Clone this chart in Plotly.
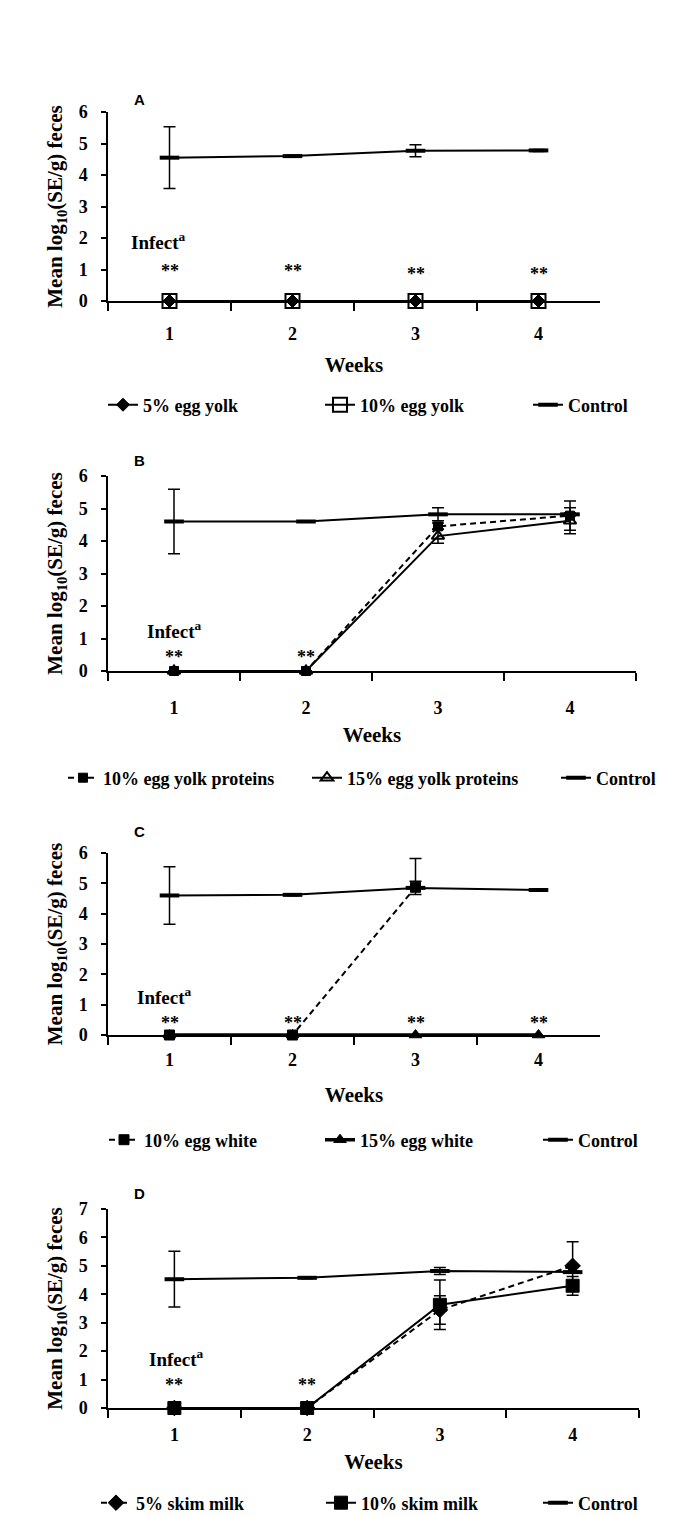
import plotly.graph_objects as go

SERIF = "Liberation Serif"
SANS = "Liberation Sans"

weeks = ["1", "2", "3", "4"]

# Panel A
a_yolk5 = [0, 0, 0, 0]
a_yolk10 = [0, 0, 0, 0]
a_control = [4.55, 4.6, 4.77, 4.78]
a_control_err = [0.98, 0.03, 0.19, 0.03]

# Panel B
b_yp10 = [0, 0, 4.45, 4.78]
b_yp10_err = [None, None, 0.1, 0.45]
b_yp15 = [0, 0, 4.15, 4.62]
b_yp15_err = [None, None, 0.22, 0.4]
b_control = [4.6, 4.6, 4.82, 4.82]
b_control_err = [0.99, 0.02, 0.2, 0.05]

# Panel C
c_ew10 = [0, 0, 4.87, None]
c_ew10_err_plus = [None, None, 0.95, None]
c_ew10_err_minus = [None, None, 0.0, None]
c_ew15 = [0, 0, 0, 0]
c_control = [4.6, 4.62, 4.85, 4.78]
c_control_err = [0.95, 0.03, 0.22, None]

# Panel D
d_sm5 = [0, 0, 3.45, 5.0]
d_sm5_err = [None, None, 0.5, 0.85]
d_sm10 = [0, 0, 3.63, 4.3]
d_sm10_err = [None, None, 0.87, 0.33]
d_control = [4.53, 4.58, 4.82, 4.78]
d_control_err = [0.98, 0.03, 0.12, 0.03]

# annotation positions: "**" markers (week index, value) and "Infect" label height
a_star_idx = [0, 1, 2, 3]
a_star_y = [0.95, 0.95, 0.85, 0.85]
b_star_idx = [0, 1]
b_star_y = [0.42, 0.42]
c_star_idx = [0, 1, 2, 3]
c_star_y = [0.38, 0.38, 0.38, 0.38]
d_star_idx = [0, 1]
d_star_y = [0.8, 0.8]
infect_y = [1.9, 1.27, 1.29, 1.76]

fig = go.Figure()

ERR_STYLE = dict(color="black", thickness=1.5, width=6)
DASH = "6px,4px"
H = 1516.0
W = 673.0


def py(px):
    return 1 - px / H


def px_(x):
    return x / W


legfont = dict(family=SERIF, size=18, color="black", weight="bold")
legends = {}
leg_count = [0]


def add(name, y, xa, ya, leg_xpx, leg_ypx, symbol, size, dash="solid", err=None,
        errminus=None, mline=1, lw=2):
    leg_count[0] += 1
    lid = "legend" if leg_count[0] == 1 else "legend%d" % leg_count[0]
    legends[lid] = dict(orientation="h", xanchor="left", yanchor="middle",
                        x=px_(leg_xpx), y=py(leg_ypx), font=legfont,
                        bgcolor="rgba(0,0,0,0)", borderwidth=0)
    e = None
    if err is not None:
        e = dict(type="data", array=err, visible=True, **ERR_STYLE)
        if errminus is not None:
            e["symmetric"] = False
            e["arrayminus"] = errminus
    marker = dict(symbol=symbol, size=size, color="black",
                  line=dict(color="black", width=mline))
    fig.add_trace(go.Scatter(
        x=weeks, y=y, name=name, mode="lines+markers",
        line=dict(color="black", width=lw, dash=dash),
        marker=marker, error_y=e, xaxis=xa, yaxis=ya, legend=lid,
        cliponaxis=False, connectgaps=False))


# Panel A
LA = 397
add("5% egg yolk", a_yolk5, "x", "y", 95, LA, "diamond", 10)
add("10% egg yolk", a_yolk10, "x", "y", 312, LA, "square-open", 14, mline=2)
add("Control", a_control, "x", "y", 520, LA, "line-ew", 14, err=a_control_err, mline=4)

# Panel B
LB = 770
add("10% egg yolk proteins", b_yp10, "x2", "y2", 55, LB, "square", 9,
    dash=DASH, err=b_yp10_err)
add("15% egg yolk proteins", b_yp15, "x2", "y2", 299, LB, "triangle-up-open", 11,
    err=b_yp15_err, mline=2)
add("Control", b_control, "x2", "y2", 548, LB, "line-ew", 14, err=b_control_err, mline=4)

# Panel C
LC = 1132
add("10% egg white", c_ew10, "x3", "y3", 96, LC, "square", 10,
    dash=DASH, err=c_ew10_err_plus, errminus=c_ew10_err_minus)
add("15% egg white", c_ew15, "x3", "y3", 312, LC, "triangle-up", 11, lw=3.5)
add("Control", c_control, "x3", "y3", 530, LC, "line-ew", 14, err=c_control_err, mline=4)

# Panel D
LD = 1495
add("5% skim milk", d_sm5, "x4", "y4", 88, LD, "diamond", 12,
    dash=DASH, err=d_sm5_err)
add("10% skim milk", d_sm10, "x4", "y4", 313, LD, "square", 13, err=d_sm10_err)
add("Control", d_control, "x4", "y4", 530, LD, "line-ew", 14, err=d_control_err, mline=4)

panels = [
    dict(x0=100, x1=592, yt=104, yb=293, ymax=6, tls=16, ts=14),
    dict(x0=100, x1=628, yt=468, yb=663, ymax=6, tls=20, ts=10),
    dict(x0=100, x1=592, yt=845, yb=1027, ymax=6, tls=8, ts=18),
    dict(x0=100, x1=631, yt=1201, yb=1400, ymax=7, tls=10, ts=10),
]

tickfont = dict(family=SERIF, size=18, color="black", weight="bold")
layout = {}
for i, p in enumerate(panels):
    sfx = "" if i == 0 else str(i + 1)
    layout["xaxis" + sfx] = dict(
        domain=[px_(p["x0"]), px_(p["x1"])], anchor="y" + sfx,
        type="category", range=[-0.5, 3.5], tickson="boundaries",
        ticks="outside", ticklen=8, tickwidth=1.5, tickcolor="black",
        showline=True, linecolor="black", linewidth=1.5,
        showgrid=False, zeroline=False, tickfont=tickfont,
        ticklabelstandoff=p["tls"], automargin=False,
        title=dict(text="Weeks", font=dict(family=SERIF, size=21, color="black",
                                            weight="bold"), standoff=p["ts"]),
    )
    layout["yaxis" + sfx] = dict(
        domain=[py(p["yb"]), py(p["yt"])], anchor="x" + sfx,
        range=[0, p["ymax"]], dtick=1, tick0=0,
        ticks="outside", ticklen=5, tickwidth=1.5, tickcolor="black",
        showline=True, linecolor="black", linewidth=1.5,
        showgrid=False, zeroline=False, tickfont=tickfont,
        ticklabelstandoff=10, automargin=False,
        title=dict(text="Mean log<sub>10</sub>(SE/g) feces",
                   font=dict(family=SERIF, size=21, color="black", weight="bold"),
                   standoff=10),
    )

layout.update(legends)

annotations = []
starfont = dict(family=SERIF, size=18, color="black", weight="bold")
star_sets = [(a_star_idx, a_star_y, ""), (b_star_idx, b_star_y, "2"),
             (c_star_idx, c_star_y, "3"), (d_star_idx, d_star_y, "4")]
for idx, ys, sfx in star_sets:
    for w, yv in zip(idx, ys):
        annotations.append(dict(x=w, y=yv, xref="x" + sfx, yref="y" + sfx,
                                text="**", showarrow=False, font=starfont,
                                yanchor="middle"))
infect_shift = [-12, 0, -6, 2]
for i, yv in enumerate(infect_y):
    sfx = "" if i == 0 else str(i + 1)
    annotations.append(dict(x=0, y=yv, xref="x" + sfx, yref="y" + sfx,
                            text="Infect<sup>a</sup>", showarrow=False,
                            xshift=infect_shift[i],
                            font=dict(family=SERIF, size=19, color="black",
                                      weight="bold"),
                            yanchor="middle"))
letters = [("A", 92), ("B", 453), ("C", 823), ("D", 1185)]
for t, ypx in letters:
    annotations.append(dict(x=px_(124), y=py(ypx), xref="paper", yref="paper",
                            text=t, showarrow=False, xanchor="left",
                            yanchor="middle",
                            font=dict(family=SANS, size=15, color="black",
                                      weight="bold")))

fig.update_layout(
    width=673, height=1516,
    margin=dict(l=0, r=0, t=0, b=0),
    paper_bgcolor="white", plot_bgcolor="white",
    annotations=annotations,
    showlegend=True,
    **layout,
)

fig.write_html("out.html")
